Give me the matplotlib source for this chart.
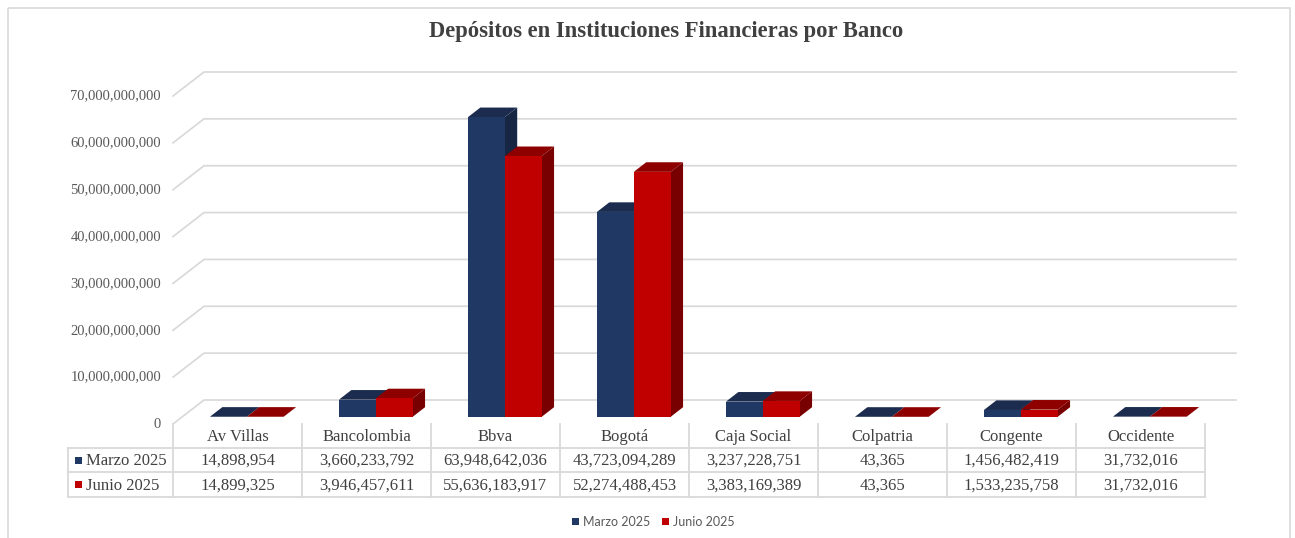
import numpy as np
import matplotlib
matplotlib.use("Agg")
import matplotlib.pyplot as plt
from matplotlib.patches import Polygon, Rectangle
from matplotlib import transforms as mtransforms

bancos = ["Av Villas", "Bancolombia", "Bbva", "Bogotá", "Caja Social",
          "Colpatria", "Congente", "Occidente"]
marzo = [14898954, 3660233792, 63948642036, 43723094289, 3237228751,
         43365, 1456482419, 31732016]
junio = [14899325, 3946457611, 55636183917, 52274488453, 3383169389,
         43365, 1533235758, 31732016]
series = ["Marzo 2025", "Junio 2025"]
yticks = np.arange(0, 70e9 + 1, 10e9)

W, H = 1295, 538
DPI = 100
DEPTH = np.array([31.0, 24.0])   # pixel shift from front to back wall
BAR_D0, BAR_D1 = 0.3, 0.7        # bar depth inside the box
GAP = 1.5
bw = 1.0 / (2 + GAP)

front = ["#203864", "#C00000"]
top = ["#1b2c4f", "#8e0000"]
side = ["#172642", "#780000"]
grid_c = "#D9D9D9"
txt_c = "#404040"
serif = "Liberation Serif"

fig = plt.figure(figsize=(W / DPI, H / DPI), dpi=DPI)

# overlay in pixel coords (y down)
ov = fig.add_axes([0, 0, 1, 1])
ov.set_xlim(0, W)
ov.set_ylim(H, 0)
ov.axis("off")

# plot region (front plane of the floor)
ax = fig.add_axes([173 / W, (H - 424) / H, 1032 / W, 328 / H])
ax.set_xlim(0, len(bancos))
ax.set_ylim(0, 70e9)
ax.axis("off")

inv = ov.transData.inverted()


def proj(x, v, d):
    p = ax.transData.transform((x, v)) + d * DEPTH
    return inv.transform(p)


# chart border
ov.add_patch(Rectangle((7.5, 7.5), 1282.5, 540, fill=False, ec=grid_c, lw=1.2))

# gridlines with the 3D wall
for v in yticks:
    pts = np.array([proj(0, v, 0), proj(0, v, 1), proj(len(bancos), v, 1)])
    ov.plot(pts[:, 0], pts[:, 1], color=grid_c, lw=1.25, zorder=1)
    p = proj(0, v, 0)
    ov.text(p[0] - 12, p[1], "{:,.0f}".format(v), ha="right", va="center",
            fontsize=10.5, family=serif, color="#595959")

# bars
for i in range(len(bancos)):
    for s, vals in enumerate([marzo, junio]):
        v = vals[i]
        x0 = i + 0.5 - bw + s * bw
        x1 = x0 + bw
        sd = [proj(x1, 0, BAR_D0), proj(x1, v, BAR_D0), proj(x1, v, BAR_D1), proj(x1, 0, BAR_D1)]
        tp = [proj(x0, v, BAR_D0), proj(x1, v, BAR_D0), proj(x1, v, BAR_D1), proj(x0, v, BAR_D1)]
        fr = [proj(x0, 0, BAR_D0), proj(x1, 0, BAR_D0), proj(x1, v, BAR_D0), proj(x0, v, BAR_D0)]
        z = 3 + i * 2 + s
        ov.add_patch(Polygon(sd, closed=True, fc=side[s], ec="none", zorder=z))
        ov.add_patch(Polygon(tp, closed=True, fc=top[s], ec="none", zorder=z))
        ov.add_patch(Polygon(fr, closed=True, fc=front[s], ec="none", zorder=z))

# data table
blend = mtransforms.blended_transform_factory(ax.transData, ov.transData)
xl, xr = 68, proj(len(bancos), 0, 0)[0]
y_head, y_r1, y_r2, y_bot = 424, 448, 472, 497
for y in [y_r1, y_r2, y_bot]:
    ov.plot([xl, xr], [y, y], color=grid_c, lw=1.3, zorder=2)
ov.plot([xl, xl], [y_r1, y_bot], color=grid_c, lw=1.3, zorder=2)
for i in range(len(bancos) + 1):
    ov.plot([i, i], [y_head, y_bot], color=grid_c, lw=1.3, transform=blend, zorder=2)
for i, b in enumerate(bancos):
    ov.text(i + 0.5, (y_head + y_r1) / 2 + 1, b, transform=blend, ha="center",
            va="center", fontsize=12, family=serif, color=txt_c)
    ov.text(i + 0.5, (y_r1 + y_r2) / 2 + 1, "{:,}".format(marzo[i]), transform=blend,
            ha="center", va="center", fontsize=12, family=serif, color=txt_c)
    ov.text(i + 0.5, (y_r2 + y_bot) / 2 + 1, "{:,}".format(junio[i]), transform=blend,
            ha="center", va="center", fontsize=12, family=serif, color=txt_c)
for s, yy in enumerate([(y_r1 + y_r2) / 2, (y_r2 + y_bot) / 2]):
    ov.add_patch(Rectangle((75, yy - 3.5), 7, 7, fc=front[s], ec="none"))
    ov.text(86, yy + 1, series[s], ha="left", va="center", fontsize=12,
            family=serif, color=txt_c)

# title
ov.text(666, 31, "Depósitos en Instituciones Financieras por Banco", ha="center",
        va="center", fontsize=16.3, fontweight="bold", family=serif, color=txt_c)

# legend
for s, (xm, xt) in enumerate([(572, 583), (662, 673)]):
    ov.add_patch(Rectangle((xm, 518), 7, 7, fc=front[s], ec="none"))
    ov.text(xt, 521.5, series[s], ha="left", va="center", fontsize=9,
            family="Lato", color="#595959")

fig.savefig("out.png", dpi=DPI)
